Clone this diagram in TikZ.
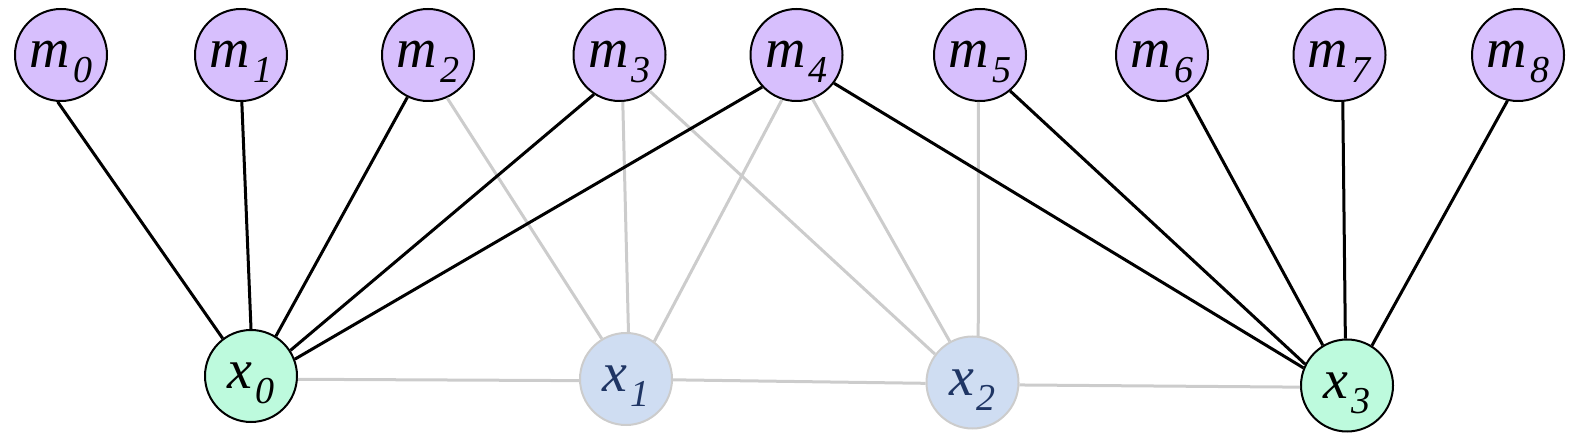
\documentclass[tikz,border=0pt]{standalone}
\usepackage{fontspec}
\setmainfont{Liberation Serif}[ItalicFont={Liberation Serif Italic}]
\definecolor{mfill}{HTML}{D7BFFD}
\definecolor{gfill}{HTML}{BDFADD}
\definecolor{bfill}{HTML}{CFDDF2}
\definecolor{edgegrey}{HTML}{CCCCCC}
\definecolor{textblue}{HTML}{1F3564}
\newcommand{\lab}[2]{\textit{#1}\kern1.5pt\raisebox{-7.5pt}{\fontsize{19}{22}\selectfont\textit{#2}}}
\begin{document}
\begin{tikzpicture}[x=0.5pt,y=-0.5pt,
  base/.style={circle,line width=1pt,minimum size=46pt,inner sep=0pt,text height=19pt,text depth=6pt,font=\fontsize{28}{33}\selectfont},
  mnode/.style={base,draw=black,fill=mfill},
  xgreen/.style={base,draw=black,fill=gfill},
  xblue/.style={base,draw=edgegrey,fill=bfill,text=textblue},
  blk/.style={draw=black,line width=1.5pt},
  gry/.style={draw=edgegrey,line width=1.5pt}]
\useasboundingbox (0,0) rectangle (1583,442);
\node[mnode] (m0) at (61,55) {\lab{m}{0}};
\node[mnode] (m1) at (241,55) {\lab{m}{1}};
\node[mnode] (m2) at (428,55) {\lab{m}{2}};
\node[mnode] (m3) at (619.5,55) {\lab{m}{3}};
\node[mnode] (m4) at (796.5,55) {\lab{m}{4}};
\node[mnode] (m5) at (980,55) {\lab{m}{5}};
\node[mnode] (m6) at (1162,55) {\lab{m}{6}};
\node[mnode] (m7) at (1339.5,55) {\lab{m}{7}};
\node[mnode] (m8) at (1518,55) {\lab{m}{8}};
\node[xgreen] (x0) at (251,376) {\lab{x}{0}};
\node[xblue] (x1) at (626,379) {\lab{x}{1}};
\node[xblue] (x2) at (972.5,382.5) {\lab{x}{2}};
\node[xgreen] (x3) at (1347,385.5) {\lab{x}{3}};
% grey connectors
\path[gry] (x0.-4) -- (x1.182.5);
\path[gry] (x1.-1) -- (x2.181);
\path[gry] (x2.-3) -- (x3.182.7);
\path[gry] (m2.294.4) -- (x1.121.6);
\path[gry] (m3.274) -- (x1.87.5);
\path[gry] (m4.252.5) -- (x1.53.9);
\path[gry] (m3.310.3) -- (x2.143.7);
\path[gry] (m4.290.1) -- (x2.119);
\path[gry] (m5.268.8) -- (x2.83);
% black connectors
\path[blk] (m0.266.3) -- (x0.127.9);
\path[blk] (m1.271) -- (x0.90);
\path[blk] (m2.244) -- (x0.58.6);
\path[blk] (m3.237.2) -- (x0.33.2);
\path[blk] (m4.223.7) -- (x0.21.9);
\path[blk] (m4.323.5) -- (x3.158);
\path[blk] (m5.310.6) -- (x3.153);
\path[blk] (m6.302.7) -- (x3.121.7);
\path[blk] (m7.274.4) -- (x3.92.5);
\path[blk] (m8.257.5) -- (x3.58.3);
\end{tikzpicture}
\end{document}
